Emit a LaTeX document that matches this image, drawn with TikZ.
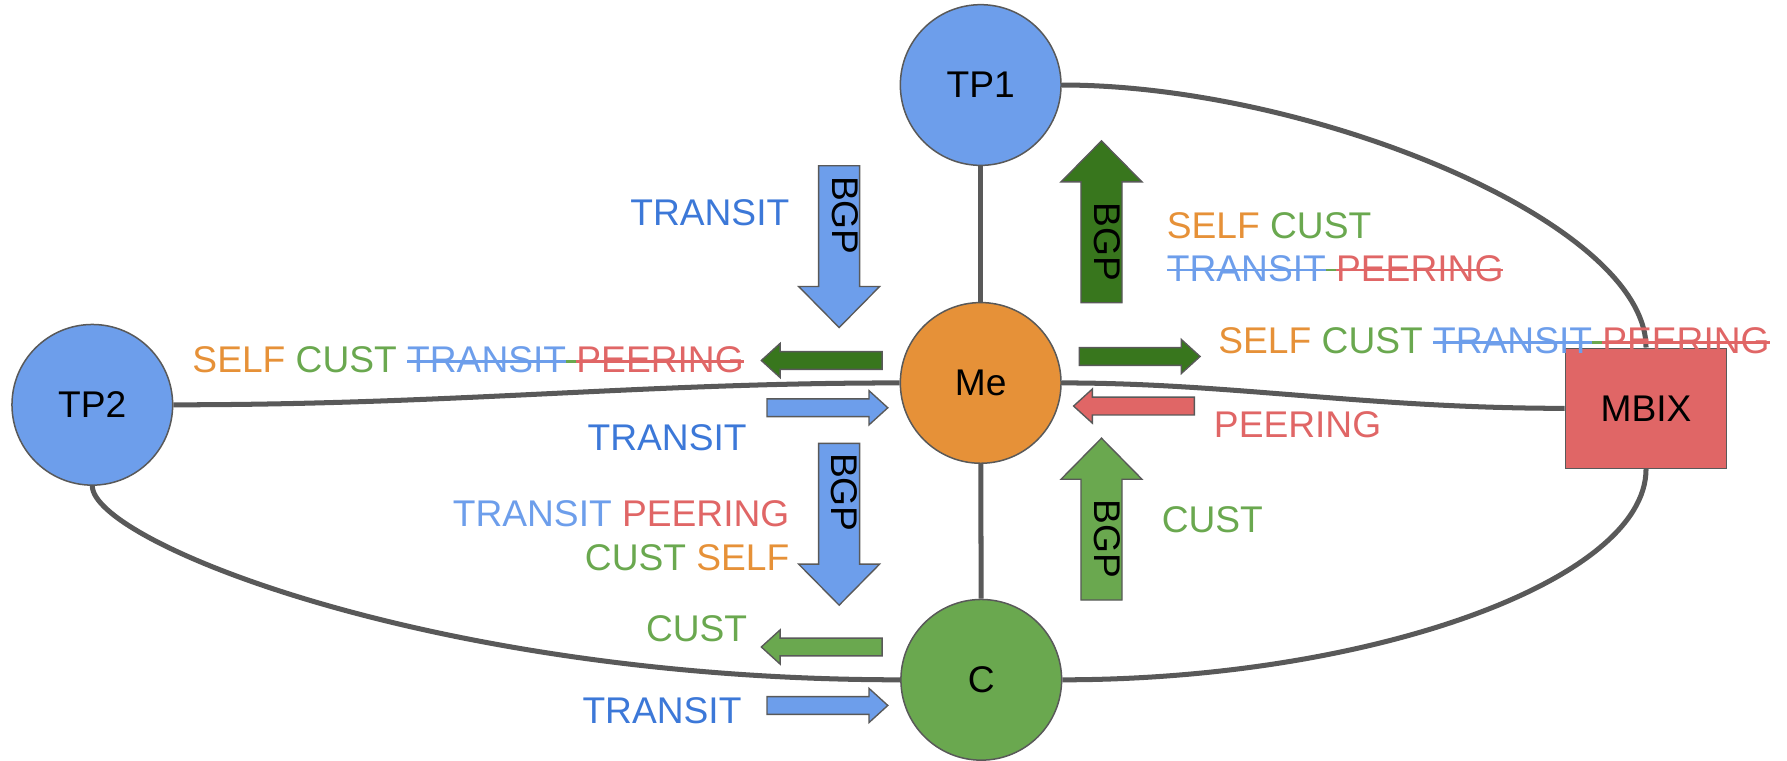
\documentclass[tikz,border=0pt]{standalone}
\usepackage{fontspec}
\setmainfont{Liberation Sans}
\definecolor{cblue}{HTML}{6D9EEB}
\definecolor{cdblue}{HTML}{3C78D8}
\definecolor{corange}{HTML}{E69138}
\definecolor{cgreen}{HTML}{6AA84F}
\definecolor{cdgreen}{HTML}{38761D}
\definecolor{cred}{HTML}{E06666}
\definecolor{cgray}{HTML}{595959}
\newcommand{\strk}[2]{\textcolor{#1}{\setbox0\hbox{#2}\rlap{\rule[\dimexpr0.31em-0.6pt\relax]{\wd0}{1.2pt}}\box0}}
\newcommand{\strksp}[1]{\textcolor{#1}{\rule[\dimexpr0.31em-0.6pt\relax]{\fontdimen2\font}{1.2pt}}}
\begin{document}
\begin{tikzpicture}[x=0.5pt,y=-0.5pt,
  every node/.style={font=\fontsize{16.3}{19.5}\selectfont, inner sep=0pt},
  circ/.style={circle, draw=cgray, line width=0.66pt, minimum size=70.5pt},
  link/.style={draw=cgray, line width=2.2pt},
  arrowframe/.style={draw=cgray, line width=0.6pt},
  lbl/.style={anchor=base west},
  lblr/.style={anchor=base east},
  bgp/.style={rotate=-90},
  pics/bigarrow/.style={code={\filldraw[arrowframe,fill=#1] (0,-18) -- (106,-18) -- (106,-35.5) -- (142,0) -- (106,35.5) -- (106,18) -- (0,18) -- cycle;}},
  pics/smallarrow/.style={code={\filldraw[arrowframe,fill=#1] (0,-7.8) -- (89.5,-7.8) -- (89.5,-15) -- (106,0) -- (89.5,15) -- (89.5,7.8) -- (0,7.8) -- cycle;}},
]
\useasboundingbox (0,0) rectangle (1568,667.7);

% nodes
\node[circ, fill=cblue] (TP1) at (860.5,74.6) {TP1};
\node[circ, fill=corange] (Me) at (860.5,336) {Me};
\node[circ, fill=cgreen] (C) at (861,596.5) {C};
\node[circ, fill=cblue] (TP2) at (81,355.2) {TP2};
\node[draw=cgray, line width=0.66pt, fill=cred, minimum width=70.7pt, minimum height=52.7pt] (MBIX) at (1444.3,358.3) {MBIX};

% links
\draw[link] (TP1) -- (Me);
\draw[link] (Me) -- (C);
\draw[link] (TP2.east) .. controls (400,355.2) and (560,336) .. (Me.west);
\draw[link] (Me.east) .. controls (1080,336) and (1200,358.3) .. (MBIX.west);
\draw[link] (TP1.east) .. controls (1150,74.6) and (1444.3,195) .. (MBIX.north);
\draw[link] (TP2.south) .. controls (81,475) and (380,596.5) .. (C.west);
\draw[link] (MBIX.south) .. controls (1444.3,510) and (1200,596.5) .. (C.east);

% big BGP arrows
\pic[rotate=-90] at (736.3,145.4) {bigarrow=cblue};
\node[bgp] (b1) at (741.5,189) {BGP};
\pic[rotate=90] at (966.5,265.6) {bigarrow=cdgreen};
\node[bgp] (b2) at (972,212) {BGP};
\pic[rotate=-90] at (736.3,389) {bigarrow=cblue};
\node[bgp] (b3) at (741,432) {BGP};
\pic[rotate=90] at (966.5,526.5) {bigarrow=cgreen};
\node[bgp] (b4) at (971.5,473) {BGP};

% small arrows
\pic[rotate=180] at (774,316.3) {smallarrow=cdgreen};
\pic at (673,357.8) {smallarrow=cblue};
\pic at (947,312.8) {smallarrow=cdgreen};
\pic[rotate=180] at (1048,356.3) {smallarrow=cred};
\pic[rotate=180] at (774,567.7) {smallarrow=cgreen};
\pic at (673,619) {smallarrow=cblue};

% labels
\node[lbl] (l1) at (552.7,197.7) {\color{cdblue}TRANSIT};
\node[lbl] (l2) at (1023.5,209) {\textcolor{corange}{SELF} \textcolor{cgreen}{CUST}};
\node[lbl] (l3) at (1023.5,247) {\strk{cblue}{TRANSIT}\strksp{cgreen}\strk{cred}{PEERING}};
\node[lbl] (l4) at (1068.7,310.6) {\textcolor{corange}{SELF} \textcolor{cgreen}{CUST} \strk{cblue}{TRANSIT}\strksp{cgreen}\strk{cred}{PEERING}};
\node[lbl] (l5) at (1064.8,384.3) {\color{cred}PEERING};
\node[lbl] (l6) at (1019,467.4) {\color{cgreen}CUST};
\node[lbl] (l7) at (168.5,327) {\textcolor{corange}{SELF} \textcolor{cgreen}{CUST} \strk{cblue}{TRANSIT}\strksp{cgreen}\strk{cred}{PEERING}};
\node[lblr] (l8) at (655.5,395.5) {\color{cdblue}TRANSIT};
\node[lblr] (l9) at (693,462) {\textcolor{cblue}{TRANSIT} \textcolor{cred}{PEERING}};
\node[lblr] (l10) at (693,500.7) {\textcolor{cgreen}{CUST} \textcolor{corange}{SELF}};
\node[lblr] (l11) at (656,563) {\color{cgreen}CUST};
\node[lblr] (l12) at (651,635) {\color{cdblue}TRANSIT};
\end{tikzpicture}
\end{document}
